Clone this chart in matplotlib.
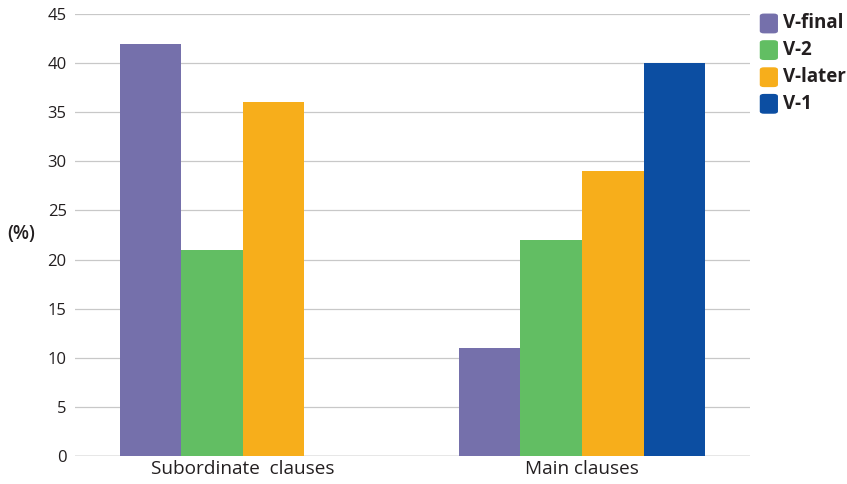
import matplotlib
matplotlib.use("Agg")
import matplotlib.pyplot as plt
from matplotlib.patches import FancyBboxPatch
import numpy as np

plt.rcParams['font.family'] = ['Open Sans', 'DejaVu Sans']

groups = ["Subordinate  clauses", "Main clauses"]
series = ["V-final", "V-2", "V-later", "V-1"]
values = {
    "V-final": [42, 11],
    "V-2": [21, 22],
    "V-later": [36, 29],
    "V-1": [0, 40],
}
colors = ["#7570ab", "#62be63", "#f7ae1b", "#0c4ea2"]
yticks = [0, 5, 10, 15, 20, 25, 30, 35, 40, 45]

fig = plt.figure(figsize=(8.47, 4.84), dpi=100)
ax = fig.add_axes([0.0885, 0.0579, 0.797, 0.913])

centers = np.array([0.0, 5.51])
width = 1.0
for i, (name, col) in enumerate(zip(series, colors)):
    offs = (i - 1.5) * width
    ax.bar(centers + offs, values[name], width=width, color=col, zorder=3, linewidth=0)

ax.set_xlim(-2.73, 8.24)
ax.set_ylim(0, 45)
ax.set_yticks(yticks)
ax.set_yticklabels([str(t) for t in yticks], fontsize=12, color="#231f20")
ax.set_xticks(centers)
ax.set_xticklabels(groups, fontsize=13.7, color="#231f20")
ax.tick_params(axis="y", length=0, pad=6)
ax.tick_params(axis="x", length=0, pad=3)
for s in ax.spines.values():
    s.set_visible(False)
for t in yticks:
    ax.axhline(t, color="#888888" if t == 0 else "#c8c8c8", lw=1.0 if t == 0 else 0.9, zorder=1)

fig.text(0.009, 0.516, "(%)", fontsize=13.5, color="#231f20", fontweight="semibold", va="center", ha="left")

# legend with rounded swatches
leg_y = [0.952, 0.897, 0.841, 0.786]
for name, col, y in zip(series, colors, leg_y):
    sw = FancyBboxPatch((0.897, y - 0.021), 0.0215, 0.041,
                        boxstyle="round,pad=0,rounding_size=0.005",
                        transform=fig.transFigure, facecolor=col, edgecolor="none")
    fig.patches.append(sw)
    fig.text(0.925, y, name, fontsize=13.5, fontweight="bold", color="#231f20",
             va="center", ha="left")

fig.savefig("out.png", dpi=100)
